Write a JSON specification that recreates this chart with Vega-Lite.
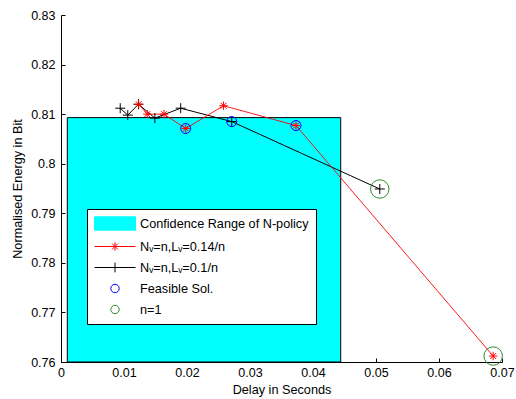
{
  "$schema": "https://vega.github.io/schema/vega-lite/v6.json",
  "autosize": {"type": "none"},
  "padding": {"left": 61, "top": 15, "right": 14, "bottom": 37},
  "width": 441,
  "height": 347,
  "background": "white",
  "config": {
    "view": {"stroke": null},
    "font": "Liberation Sans",
    "axis": {
      "grid": false,
      "domainColor": "black",
      "tickColor": "black",
      "labelColor": "black",
      "titleColor": "black",
      "labelFont": "Liberation Sans",
      "titleFont": "Liberation Sans",
      "labelFontSize": 12.5,
      "titleFontSize": 12.7,
      "titleFontWeight": "normal",
      "tickSize": -4,
      "domainWidth": 1
    }
  },
  "datasets": {
    "conf": [{"x": 0.001, "x2": 0.0444, "y": 0.76, "y2": 0.8093}],
    "red": [
      {"x": 0.01233, "y": 0.8120},
      {"x": 0.0137, "y": 0.8100},
      {"x": 0.01635, "y": 0.8100},
      {"x": 0.0198, "y": 0.8071},
      {"x": 0.0258, "y": 0.8117},
      {"x": 0.0373, "y": 0.8077},
      {"x": 0.0686, "y": 0.7612}
    ],
    "black": [
      {"x": 0.0094, "y": 0.8112},
      {"x": 0.0106, "y": 0.8098},
      {"x": 0.0123, "y": 0.8120},
      {"x": 0.0149, "y": 0.8092},
      {"x": 0.0190, "y": 0.8112},
      {"x": 0.0271, "y": 0.8085},
      {"x": 0.0506, "y": 0.7949}
    ],
    "feasible": [
      {"x": 0.0198, "y": 0.8071},
      {"x": 0.0271, "y": 0.8085},
      {"x": 0.0373, "y": 0.8077}
    ],
    "n1": [
      {"x": 0.0506, "y": 0.7949},
      {"x": 0.0686, "y": 0.7612}
    ]
  },
  "encoding": {
    "x": {
      "type": "quantitative",
      "scale": {"domain": [0, 0.07], "nice": false, "zero": false},
      "axis": {"title": "Delay in Seconds", "values": [0, 0.01, 0.02, 0.03, 0.04, 0.05, 0.06, 0.07], "format": ".2~f", "labelPadding": 8, "titlePadding": 5, "labelFlush": false}
    },
    "y": {
      "type": "quantitative",
      "scale": {"domain": [0.76, 0.83], "nice": false, "zero": false},
      "axis": {"title": "Normalised Energy in Bit", "values": [0.76, 0.77, 0.78, 0.79, 0.8, 0.81, 0.82, 0.83], "format": ".2~f", "labelPadding": 10, "titlePadding": 6, "labelFlush": false}
    },
    "color": {
      "type": "nominal",
      "scale": {
        "domain": ["Confidence Range of N-policy", "Nᵥ=n,Lᵥ=0.14/n", "Nᵥ=n,Lᵥ=0.1/n", "Feasible Sol.", "n=1"],
        "range": ["#00FFFF", "#FF0000", "#000000", "#0000FF", "#2E8B2E"]
      },
      "legend": {
        "title": null,
        "orient": "none",
        "legendX": 26,
        "legendY": 194,
        "padding": 7,
        "strokeColor": "black",
        "fillColor": "white",
        "symbolSize": 196,
        "labelFont": "Liberation Sans",
        "labelFontSize": 12.7,
        "labelColor": "black",
        "labelLimit": 400,
        "rowPadding": 6,
        "labelOffset": 31,
        "encode": {
          "symbols": {
            "update": {
              "shape": [
                {"test": "datum.value === 'Confidence Range of N-policy'", "value": "M-1,-0.95H4.857V0.95H-1Z"},
                {"test": "datum.value === 'Nᵥ=n,Lᵥ=0.14/n'", "value": "M-1,0H4.857M1.33,0H2.53M1.93,-0.6V0.6M1.51,-0.42L2.35,0.42M1.51,0.42L2.35,-0.42"},
                {"test": "datum.value === 'Nᵥ=n,Lᵥ=0.1/n'", "value": "M-1,0H4.857M1.93,-0.7V0.7"},
                {"value": "M1.33,0A0.6,0.6 0 1,1 2.53,0A0.6,0.6 0 1,1 1.33,0Z"}
              ],
              "fill": [
                {"test": "datum.value === 'Confidence Range of N-policy'", "value": "#00FFFF"},
                {"value": "transparent"}
              ],
              "fillOpacity": [
                {"test": "datum.value === 'Confidence Range of N-policy'", "value": 1},
                {"value": 0}
              ],
              "stroke": [
                {"test": "datum.value === 'Confidence Range of N-policy'", "value": "#000000"},
                {"test": "datum.value === 'Nᵥ=n,Lᵥ=0.14/n'", "value": "#FF0000"},
                {"test": "datum.value === 'Nᵥ=n,Lᵥ=0.1/n'", "value": "#000000"},
                {"test": "datum.value === 'Feasible Sol.'", "value": "#0000FF"},
                {"value": "#2E8B2E"}
              ],
              "strokeOpacity": {"value": 1},
              "strokeWidth": {"value": 1},
              "opacity": {"value": 1}
            }
          }
        }
      }
    }
  },
  "layer": [
    {
      "data": {"name": "conf"},
      "mark": {"type": "rect", "stroke": "black", "strokeWidth": 1, "opacity": 1},
      "encoding": {
        "x": {"field": "x", "type": "quantitative"},
        "x2": {"field": "x2"},
        "y": {"field": "y", "type": "quantitative"},
        "y2": {"field": "y2"},
        "color": {"datum": "Confidence Range of N-policy"}
      }
    },
    {
      "data": {"name": "black"},
      "mark": {"type": "line", "strokeWidth": 1},
      "encoding": {
        "x": {"field": "x", "type": "quantitative"},
        "y": {"field": "y", "type": "quantitative"},
        "color": {"datum": "Nᵥ=n,Lᵥ=0.1/n"}
      }
    },
    {
      "data": {"name": "red"},
      "mark": {"type": "line", "strokeWidth": 0.9},
      "encoding": {
        "x": {"field": "x", "type": "quantitative"},
        "y": {"field": "y", "type": "quantitative"},
        "color": {"datum": "Nᵥ=n,Lᵥ=0.14/n"}
      }
    },
    {
      "data": {"name": "black"},
      "mark": {"type": "point", "filled": false, "shape": "M-1,0H1M0,-1V1", "size": 100, "strokeWidth": 1, "opacity": 1},
      "encoding": {
        "x": {"field": "x", "type": "quantitative"},
        "y": {"field": "y", "type": "quantitative"},
        "color": {"datum": "Nᵥ=n,Lᵥ=0.1/n"}
      }
    },
    {
      "data": {"name": "red"},
      "mark": {"type": "point", "filled": false, "shape": "M-1,0H1M0,-1V1M-0.7,-0.7L0.7,0.7M-0.7,0.7L0.7,-0.7", "size": 70, "strokeWidth": 1, "opacity": 1},
      "encoding": {
        "x": {"field": "x", "type": "quantitative"},
        "y": {"field": "y", "type": "quantitative"},
        "color": {"datum": "Nᵥ=n,Lᵥ=0.14/n"}
      }
    },
    {
      "data": {"name": "feasible"},
      "mark": {"type": "point", "filled": false, "shape": "circle", "size": 100, "strokeWidth": 1, "opacity": 1},
      "encoding": {
        "x": {"field": "x", "type": "quantitative"},
        "y": {"field": "y", "type": "quantitative"},
        "color": {"datum": "Feasible Sol."}
      }
    },
    {
      "data": {"name": "n1"},
      "mark": {"type": "point", "filled": false, "shape": "circle", "size": 340, "strokeWidth": 1, "opacity": 1},
      "encoding": {
        "x": {"field": "x", "type": "quantitative"},
        "y": {"field": "y", "type": "quantitative"},
        "color": {"datum": "n=1"}
      }
    }
  ]
}
